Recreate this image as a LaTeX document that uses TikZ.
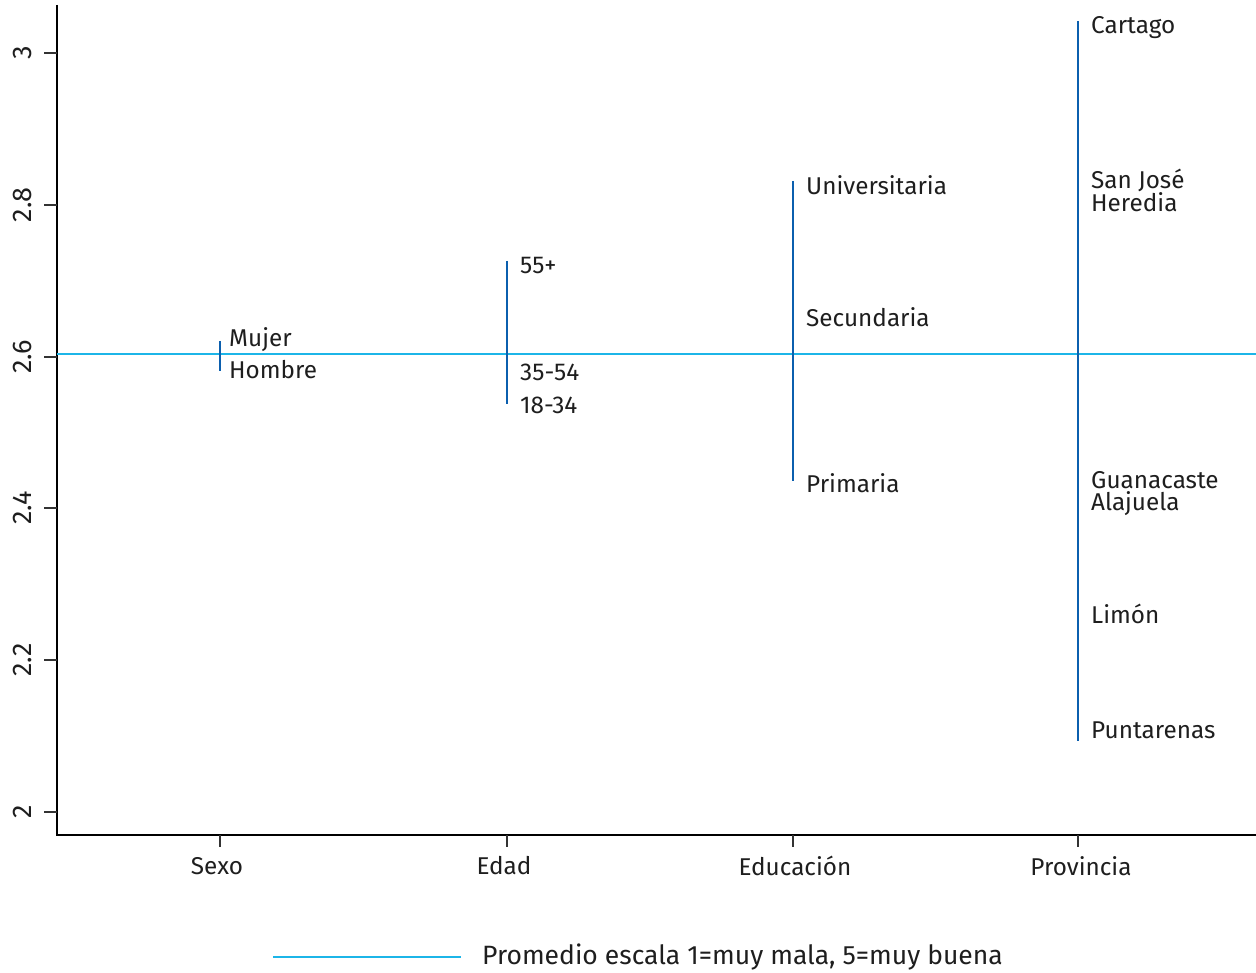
\documentclass[tikz,border=0pt]{standalone}
\usepackage{fontspec}
\setmainfont{Fira Sans}
\definecolor{meancol}{HTML}{1CB5E8}
\definecolor{spikecol}{HTML}{0B5FAE}
\definecolor{txt}{HTML}{1E1E1E}
\begin{document}
\begin{tikzpicture}[x=1pt,y=-1pt,
  axis/.style={draw=black,line width=1.2pt},
  tick/.style={draw=black!80,line width=1.2pt},
  spike/.style={draw=spikecol,line width=2.2pt},
  meanline/.style={draw=meancol,line width=1.8pt},
  lab/.style={anchor=west,inner sep=0pt,text=txt,font=\fontsize{24.3}{25}\selectfont},
  ylab/.style={rotate=90,inner sep=0pt,text=txt,font=\fontsize{27}{28}\selectfont},
  xlab/.style={inner sep=0pt,text=txt,font=\fontsize{24.3}{25}\selectfont}]
\useasboundingbox (0,0) rectangle (1256,973);
% axes
\coordinate (o) at (57,835);
\coordinate (ytop) at (57,5);
\coordinate (xend) at (1256,835);
\draw[axis] (ytop) -- (o) -- (xend);
% y ticks
\foreach \v/\y in {3/53,2.8/205,2.6/357,2.4/508,2.2/660,2/812}{
  \draw[tick] (44,\y) -- (57,\y);
  \node[ylab] (yl\y) at (22,\y) {\v};
}
% x ticks
\foreach \x in {220,507,793,1078}{
  \draw[tick] (\x,835) -- (\x,847);
}
\node[xlab] (xs) at (217,866) {Sexo};
\node[xlab] (xe) at (504,866) {Edad};
\node[xlab] (xed) at (795,866) {Educación};
\node[xlab] (xp) at (1081,866) {Provincia};
% mean line
\coordinate (ml) at (57,354);
\coordinate (mr) at (1256,354);
\draw[meanline] (ml) -- (mr);
% spikes
\coordinate (s1) at (220,341); \coordinate (s2) at (220,371);
\draw[spike] (s1) -- (s2);
\coordinate (e1) at (507,261); \coordinate (e2) at (507,404);
\draw[spike] (e1) -- (e2);
\coordinate (d1) at (793,181); \coordinate (d2) at (793,481);
\draw[spike] (d1) -- (d2);
\coordinate (p1) at (1078,21); \coordinate (p2) at (1078,741);
\draw[spike] (p1) -- (p2);
% labels
\node[lab] (mujer) at (229,340) {Mujer};
\node[lab] (hombre) at (229,370) {Hombre};
\node[lab] (a55) at (520,266) {55+};
\node[lab] (a35) at (520,372) {35-54};
\node[lab] (a18) at (520,405) {18-34};
\node[lab] (univ) at (806,185) {Universitaria};
\node[lab] (secu) at (806,317) {Secundaria};
\node[lab] (prim) at (806,483) {Primaria};
\node[lab] (cart) at (1091,28) {Cartago};
\node[lab] (sjo) at (1091,180) {San José};
\node[lab] (here) at (1091,202) {Heredia};
\node[lab] (guan) at (1091,480) {Guanacaste};
\node[lab] (alaj) at (1091,504) {Alajuela};
\node[lab] (limo) at (1091,614) {Limón};
\node[lab] (punt) at (1091,730) {Puntarenas};
% legend
\coordinate (lg1) at (273,957);
\coordinate (lg2) at (461,957);
\draw[meancol,line width=2.6pt] (lg1) -- (lg2);
\node[lab,font=\fontsize{26.5}{27}\selectfont] (legtxt) at (482,957) {Promedio escala 1=muy mala, 5=muy buena};
\end{tikzpicture}
\end{document}
